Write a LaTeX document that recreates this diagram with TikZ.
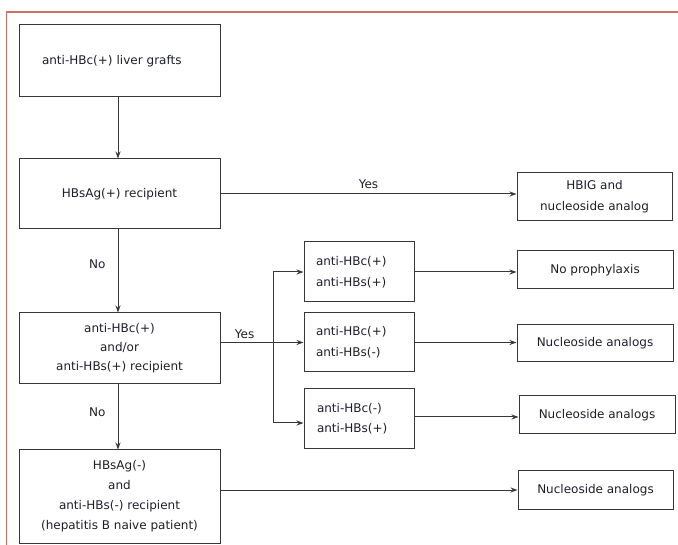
\documentclass[tikz,border=0pt]{standalone}
\usepackage{fontspec}
\setmainfont{DejaVu Sans}
\usetikzlibrary{arrows.meta,positioning}
\definecolor{framered}{RGB}{210,112,110}
\definecolor{linegray}{RGB}{55,55,55}
\definecolor{txt}{RGB}{30,30,40}
\tikzset{
  box/.style={draw=linegray, line width=1pt, rectangle, inner sep=0pt, align=center,
    text=txt, font=\fontsize{12}{20}\selectfont},
  lbox/.style={box, align=left, inner xsep=12pt, text width=86pt, minimum height=#1},
  arr/.style={draw=linegray, line width=1pt, -{Stealth[length=7pt,width=5pt]}},
  conn/.style={draw=linegray, line width=1pt},
  lbl/.style={text=txt, font=\fontsize{12}{14}\selectfont, inner sep=0pt}
}
\begin{document}
\begin{tikzpicture}[x=1pt,y=-1pt]
\useasboundingbox (0,0) rectangle (678,545);
\draw[framered, line width=1.3pt] (678,12) -- (6.5,12) -- (6.5,545);

\node[box, align=left, inner xsep=23pt, text width=155pt, minimum height=72pt] (b1) at (119.5,61) {anti-HBc(+) liver grafts};
\node[box, minimum width=201pt, minimum height=70pt] (b2) at (119.5,194) {HBsAg(+) recipient};
\node[box, minimum width=201pt, minimum height=71pt, font=\fontsize{12}{19}\selectfont] (b3) at (119.5,348.5) {anti-HBc(+)\\and/or\\anti-HBs(+) recipient};
\node[box, minimum width=201pt, minimum height=93pt] (b4) at (119.5,496.5) {HBsAg(-)\\and\\anti-HBs(-) recipient\\(hepatitis B naive patient)};

\node[lbox=60pt, font=\fontsize{12}{21}\selectfont] (ba) at (359,272) {anti-HBc(+)\\anti-HBs(+)};
\node[lbox=59pt, font=\fontsize{12}{21}\selectfont] (bb) at (359,342.5) {anti-HBc(+)\\anti-HBs(-)};
\node[lbox=60pt, inner xsep=13pt, text width=84pt, font=\fontsize{12}{20}\selectfont] (bc) at (359,419) {anti-HBc(-)\\anti-HBs(+)};

\node[box, minimum width=155pt, minimum height=48pt, font=\fontsize{12}{21}\selectfont] (hbig) at (594.5,197) {HBIG and\\nucleoside analog};
\node[box, minimum width=156pt, minimum height=38pt] (np) at (595,270) {No prophylaxis};
\node[box, minimum width=156pt, minimum height=37pt] (n1) at (595,343.5) {Nucleoside analogs};
\node[box, minimum width=156pt, minimum height=38pt] (n2) at (597,415) {Nucleoside analogs};
\node[box, minimum width=155pt, minimum height=38pt] (n3) at (595.5,490) {Nucleoside analogs};

% vertical chain
\draw[arr] ([xshift=-1.5pt]b1.south) -- ([xshift=-1.5pt]b2.north);
\draw[arr] ([xshift=-1.5pt]b2.south) -- node[lbl, left=12pt, pos=0.42] (no1) {No} ([xshift=-1.5pt]b3.north);
\draw[arr] ([xshift=-1.5pt]b3.south) -- node[lbl, left=12pt, pos=0.42] (no2) {No} ([xshift=-1.5pt]b4.north);

% HBsAg(+) -> HBIG
\draw[arr] (b2.east) -- node[lbl, above=5pt, pos=0.5] (yes1) {Yes} (hbig.west |- b2.east);

% branch from b3
\coordinate (ja) at (273,272);
\coordinate (jc) at (273,423);
\draw[arr] (b3.east |- bb.west) -- node[lbl, above=3pt, pos=0.29] (yes2) {Yes} (bb.west);
\draw[conn] (ja) -- (jc);
\draw[arr] (ja) -- (ba.west |- ja);
\draw[arr] (jc) -- (bc.west |- jc);

% to outcomes
\coordinate (bcout) at (bc.east |- n2.west);
\draw[arr] (ba.east) -- (np.west |- ba.east);
\draw[arr] (bb.east) -- (n1.west |- bb.east);
\draw[arr] ([yshift=-2pt]bcout) -- ([yshift=-2pt]n2.west);
\draw[arr] (b4.east |- n3.west) -- (n3.west);
\end{tikzpicture}
\end{document}
